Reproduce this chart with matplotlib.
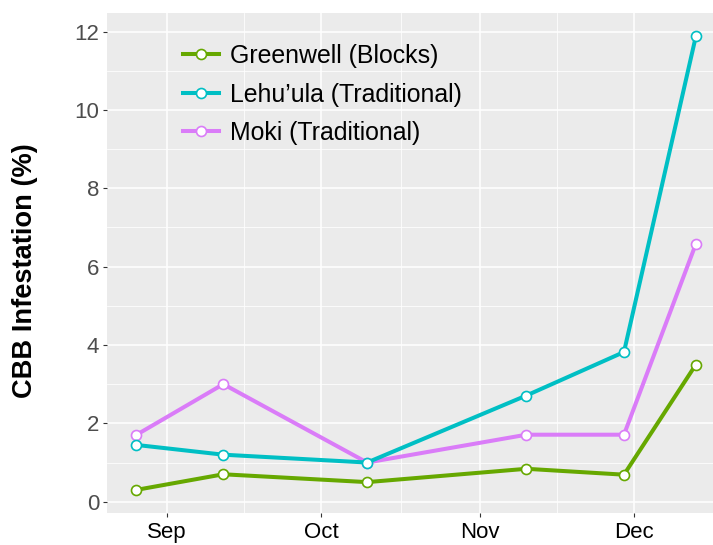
import numpy as np
import pandas as pd
import matplotlib
matplotlib.use('Agg')
import matplotlib.pyplot as plt
import matplotlib.dates as mdates

plt.rcParams['font.family'] = ['Liberation Sans', 'DejaVu Sans']

# sampling dates and infestation (%) per farm
dates = pd.to_datetime(['2016-08-26', '2016-09-12', '2016-10-10',
                        '2016-11-10', '2016-11-29', '2016-12-13'])
greenwell = [0.30, 0.70, 0.50, 0.84, 0.69, 3.50]
lehuula = [1.45, 1.20, 1.00, 2.71, 3.82, 11.88]
moki = [1.70, 3.00, 1.00, 1.71, 1.71, 6.58]

labels = ['Greenwell (Blocks)', 'Lehu\u2019ula (Traditional)', 'Moki (Traditional)']
colors = ['#66A800', '#00BFC4', '#DA7CF8']
series = [greenwell, lehuula, moki]
zorders = [4, 5, 3]

fig = plt.figure(figsize=(7.13, 5.45), dpi=100)
ax = fig.add_axes([0.1505, 0.0593, 0.8495, 0.9174])
ax.set_facecolor('#EBEBEB')
for s in ax.spines.values():
    s.set_visible(False)

for vals, lab, col, z in zip(series, labels, colors, zorders):
    ax.plot(dates, vals, color=col, lw=2.9, marker='o', ms=7.2,
            mfc='white', mec=col, mew=1.2, label=lab, zorder=z)

ax.set_ylim(-0.28, 12.48)
ax.set_xlim(pd.Timestamp('2016-08-20 10:00'), pd.Timestamp('2016-12-16 08:00'))

ax.set_yticks([0, 2, 4, 6, 8, 10, 12])
ax.set_yticks([1, 3, 5, 7, 9, 11], minor=True)
ax.xaxis.set_major_locator(mdates.MonthLocator())
ax.xaxis.set_major_formatter(mdates.DateFormatter('%b'))
minor_dates = [pd.Timestamp('2016-09-16'), pd.Timestamp('2016-10-16 12:00'),
               pd.Timestamp('2016-11-16')]
ax.set_xticks(minor_dates, minor=True)

ax.grid(which='major', color='white', lw=1.1, zorder=0)
ax.grid(which='minor', color='white', lw=0.55, zorder=0)
ax.set_axisbelow(True)

ax.tick_params(which='major', length=2.9, width=0.8, color='#333333', pad=3)
ax.tick_params(which='minor', length=0)
ax.tick_params(axis='y', labelsize=16, labelcolor='#4D4D4D')
ax.tick_params(axis='x', labelsize=16, labelcolor='black', pad=4)

ax.set_ylabel('CBB Infestation (%)', fontsize=19.6, fontweight='bold')
ax.yaxis.set_label_coords(-0.1152, 0.4834)

leg = ax.legend(loc='upper left', bbox_to_anchor=(0.1255, 0.937), frameon=False,
                fontsize=17.9, handlelength=1.45, handletextpad=0.44,
                labelspacing=0.58, borderpad=0, borderaxespad=0, numpoints=1)

fig.savefig('out.png', dpi=100)
